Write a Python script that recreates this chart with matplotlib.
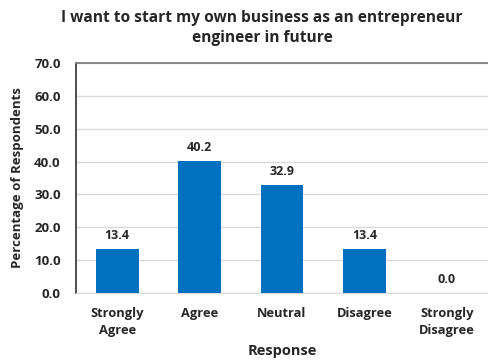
import matplotlib
matplotlib.use("Agg")
import matplotlib.pyplot as plt

categories = ["Strongly\nAgree", "Agree", "Neutral", "Disagree", "Strongly\nDisagree"]
values = [13.4, 40.2, 32.9, 13.4, 0.0]
yticks = [0, 10, 20, 30, 40, 50, 60, 70]

plt.rcParams['font.family'] = ['Open Sans', 'DejaVu Sans']

fig = plt.figure(figsize=(4.88, 3.61), dpi=100)
ax = fig.add_axes([76/488, 1-293/361, 412/488, 230/361])

x = range(len(categories))
bars = ax.bar(x, values, width=0.52, color="#0070C0", zorder=3)

for xi, v in zip(x, values):
    ax.annotate(f"{v:.1f}", (xi, v), xytext=(0, 5), textcoords="offset points",
                ha="center", va="bottom", fontsize=9, fontweight="bold", color="#262626")

ax.set_xlim(-0.5, 4.5)
ax.set_ylim(0, 70)
ax.set_yticks(yticks)
ax.set_yticklabels([f"{t:.1f}" for t in yticks], fontsize=9.5, fontweight="bold", color="#262626")
ax.set_xticks(list(x))
ax.set_xticklabels(categories, fontsize=9.3, fontweight="bold", color="#262626", linespacing=1.45)
ax.tick_params(axis="both", length=0)
ax.tick_params(axis="y", pad=11)
ax.tick_params(axis="x", pad=10)

ax.yaxis.grid(True, color="#D9D9D9", linewidth=1, zorder=0)
ax.set_axisbelow(True)

ax.spines["left"].set_color("#404040")
ax.spines["left"].set_linewidth(1.3)
ax.spines["top"].set_color("#7F7F7F")
ax.spines["top"].set_linewidth(1.3)
ax.spines["bottom"].set_color("#D9D9D9")
ax.spines["right"].set_visible(False)

ax.set_ylabel("Percentage of Respondents", fontsize=9.5, fontweight="bold", color="#262626", labelpad=7)
ax.set_xlabel("Response", fontsize=10.5, fontweight="bold", color="#262626", labelpad=5)

fig.text(262/488, 1-28/361, "I want to start my own business as an entrepreneur\nengineer in future",
         ha="center", va="center", fontsize=11.2, fontweight="bold", color="#262626", linespacing=1.35)

fig.savefig("out.png", dpi=100, facecolor="white")
